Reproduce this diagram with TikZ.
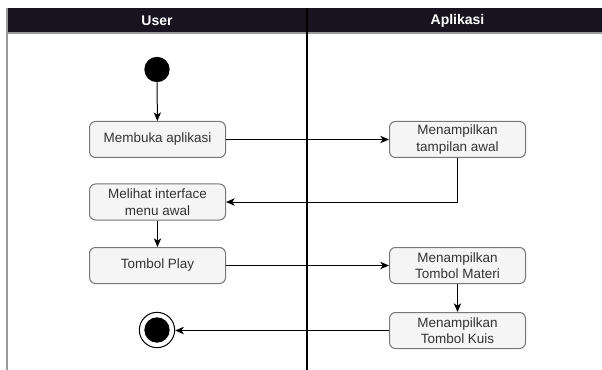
\documentclass[tikz,border=0pt]{standalone}
\usepackage{fontspec}
\setmainfont{Liberation Sans}
\usetikzlibrary{arrows.meta}
\definecolor{headbg}{HTML}{17141F}
\definecolor{boxfill}{HTML}{F5F5F5}
\definecolor{boxline}{HTML}{777777}
\definecolor{boxtext}{HTML}{333333}
\definecolor{laneline}{HTML}{999999}
\begin{document}
\begin{tikzpicture}[x=0.75pt,y=-0.75pt,
  action/.style={draw=boxline,fill=boxfill,rounded corners=4.5pt,line width=0.75pt,
    minimum width=102pt,minimum height=27pt,inner sep=0pt,text=boxtext,
    font=\fontsize{10.1pt}{12.4pt}\selectfont,align=center},
  flow/.style={line width=0.75pt,-{Stealth[length=6.5pt,width=5.5pt,inset=1.8pt]}},
  lanehead/.style={text=white,font=\fontsize{10.5pt}{12pt}\selectfont\bfseries}]
\useasboundingbox (0,0) rectangle (602,370);
% swimlane frame
\fill[headbg] (6,8) rectangle (602,33);
\draw[laneline,line width=1pt] (6,33) -- (602,33);
\draw[laneline,line width=1.5pt] (6.5,8) -- (6.5,370);
\draw[black,line width=0.9pt] (307,8) -- (307,370);
\node[lanehead] (hUser) at (157,21) {User};
\node[lanehead] (hApp) at (457.5,21) {Aplikasi};
% initial and final states
\node[circle,fill=black,minimum size=19pt,inner sep=0pt] (start) at (157,69.5) {};
\node[circle,draw=black,fill=white,line width=0.75pt,minimum size=26.5pt,inner sep=0pt] (stop) at (157,330) {};
\node[circle,fill=black,minimum size=19pt,inner sep=0pt] (stopdot) at (157,330) {};
% actions
\node[action] (buka) at (157.5,139.5) {Membuka aplikasi};
\node[action] (lihat) at (157.5,202) {Melihat interface\\menu awal};
\node[action] (play) at (157.5,265.5) {Tombol Play};
\node[action] (awal) at (457.5,139.5) {Menampilkan\\tampilan awal};
\node[action] (materi) at (457.5,265.5) {Menampilkan\\Tombol Materi};
\node[action] (kuis) at (457.5,330.5) {Menampilkan\\Tombol Kuis};
% flows
\draw[flow] (start) -- (buka);
\draw[flow] (buka) -- (awal);
\draw[flow] (awal.south) |- (lihat.east);
\draw[flow] (lihat) -- (play);
\draw[flow] (play) -- (materi);
\draw[flow] (materi) -- (kuis);
\draw[flow] (kuis.west) -- (stop.east |- kuis.west);
\end{tikzpicture}
\end{document}
